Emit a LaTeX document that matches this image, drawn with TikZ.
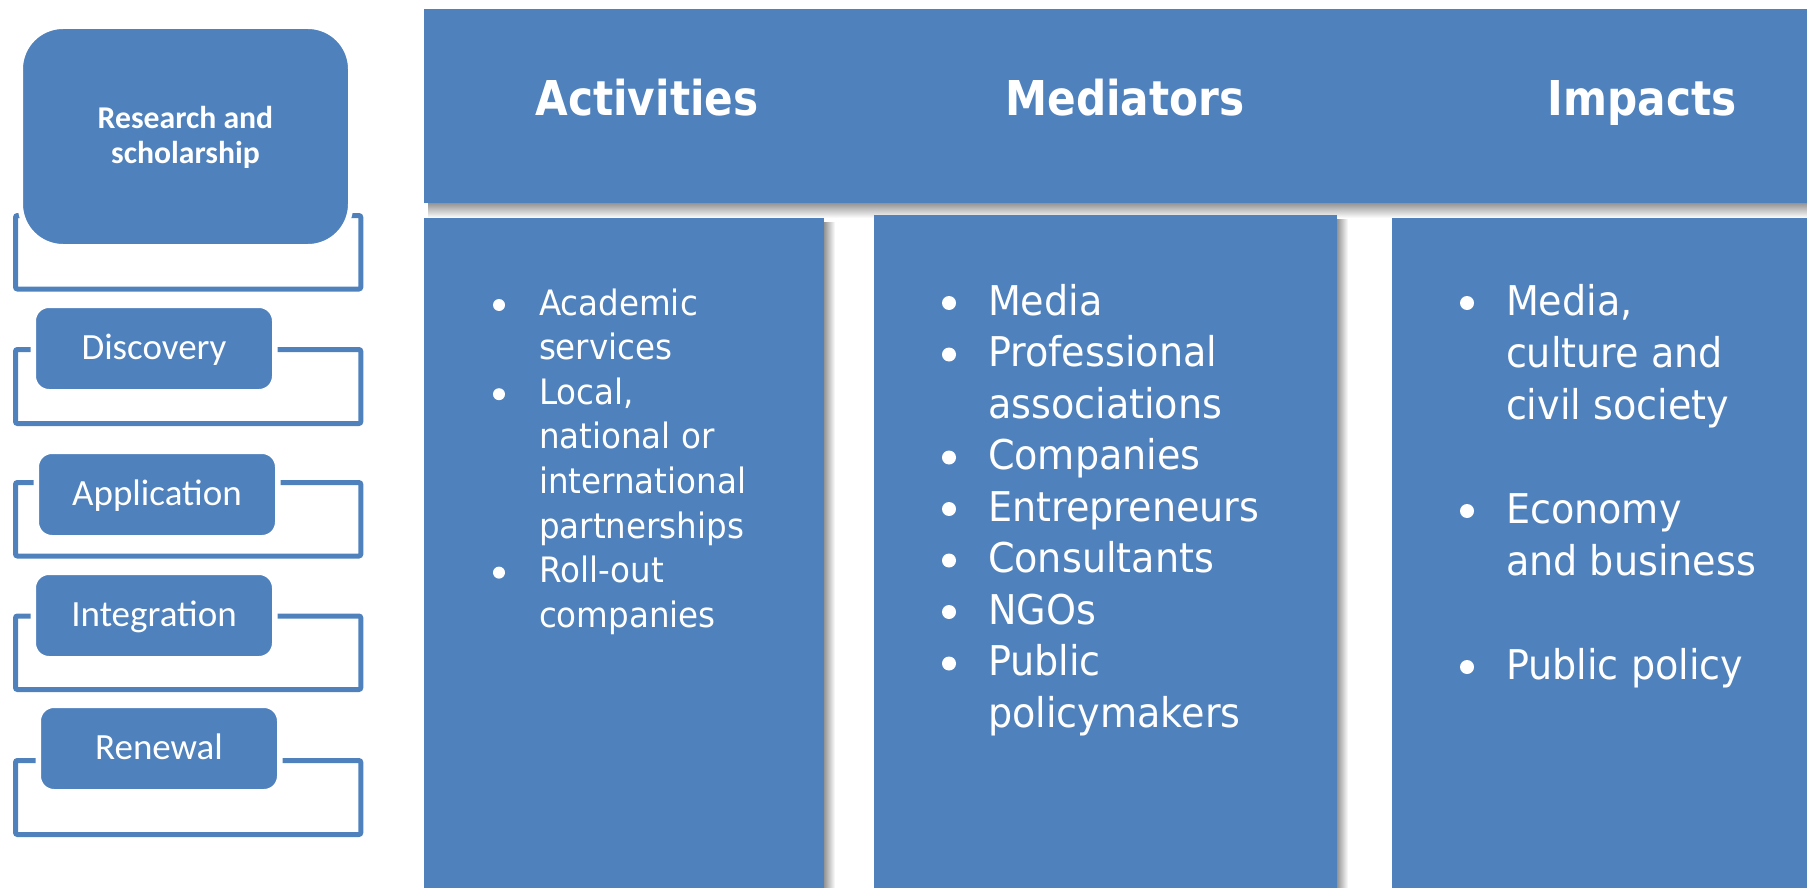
\documentclass[tikz,border=0pt]{standalone}
\usepackage{fontspec}
\newfontfamily\tahfont[FakeStretch=0.93]{DejaVu Sans}
\newfontfamily\tahhead[FakeStretch=0.88]{DejaVu Sans}
\newfontfamily\calfont{Carlito}
\definecolor{blu}{HTML}{4F81BD}
\begin{document}
\begin{tikzpicture}[x=1pt,y=-1pt,
  every node/.style={inner sep=0pt, outer sep=0pt},
  brk/.style={draw=blu, line width=5pt, rounded corners=2pt},
  lbox/.style={fill=blu, draw=white, line width=5.5pt, text=white,
    font=\calfont\fontsize{37pt}{44pt}\selectfont, align=center,
    text height=29pt, text depth=7pt,
    minimum width=241.5pt, minimum height=86.5pt, rounded corners=15.75pt},
  ltext/.style={text=white, font=\calfont\bfseries\fontsize{31.7pt}{35pt}\selectfont, anchor=base},
  mainbox/.style={fill=blu, anchor=north west},
  head/.style={text=white, font=\tahhead\bfseries\fontsize{48pt}{58pt}\selectfont, anchor=base},
  itemA/.style={text=white, font=\tahfont\fontsize{35pt}{42pt}\selectfont, anchor=base west},
  itemB/.style={text=white, font=\tahfont\fontsize{41pt}{49pt}\selectfont, anchor=base west},
  dotA/.style={circle, fill=white, minimum size=12pt},
  dotB/.style={circle, fill=white, minimum size=14pt},
  shv/.style={top color=black!42, bottom color=white, draw=none},
  shh/.style={left color=black!42, right color=white, draw=none},
]
\useasboundingbox (0,0) rectangle (1807,888);
\clip (0,0) rectangle (1807,888);

% ---------- left column: brackets ----------
\draw[brk] (15.5,215.5) rectangle (360.8,289);
\draw[brk] (15.5,349.5) rectangle (360.8,423.5);
\draw[brk] (15.5,482.5) rectangle (360.8,556);
\draw[brk] (15.5,616) rectangle (360.8,689.5);
\draw[brk] (15.5,760.5) rectangle (360.8,834.5);

% ---------- left column: boxes ----------
\node[lbox, minimum width=330.5pt, minimum height=220.5pt, rounded corners=42.75pt,
      text height=0pt, text depth=0pt] (res) at (185.5,136.5) {};
\node[ltext] (res1) at (185.5,128.5) {Research and};
\node[ltext] (res2) at (185.5,163.5) {scholarship};
\node[lbox] (disc) at (154,348.5) {Discovery};
\node[lbox] (appl) at (157,494.5) {Application};
\node[lbox] (integ) at (154,615.5) {Integration};
\node[lbox] (renew) at (159,748.5) {Renewal};

% ---------- shadows ----------
\fill[shv] (428,203) rectangle (1830,218);
\fill[shh] (824,222) rectangle (835,900);
\fill[shh] (1337,219) rectangle (1348,900);

% ---------- banner and columns ----------
\node[mainbox, minimum width=1420pt, minimum height=194pt] (banner) at (424,9) {};
\node[mainbox, minimum width=400pt, minimum height=700pt] (act) at (424,218) {};
\node[mainbox, minimum width=463pt, minimum height=700pt] (med) at (874,215) {};
\node[mainbox, minimum width=450pt, minimum height=700pt] (imp) at (1392,218) {};

% ---------- headings ----------
\node[head] (hact) at (647,116) {Activities};
\node[head] (hmed) at (1125,116) {Mediators};
\node[head] (himp) at (1642,116) {Impacts};

% ---------- Activities list ----------
\node[dotA] (ba1) at (499,305) {};
\node[dotA] (ba2) at (499,394.2) {};
\node[dotA] (ba3) at (499,572.6) {};
\node[itemA] (a1) at (539,315) {Academic};
\node[itemA] (a2) at (539,359.6) {services};
\node[itemA] (a3) at (539,404.2) {Local,};
\node[itemA] (a4) at (539,448.8) {national or};
\node[itemA] (a5) at (539,493.4) {international};
\node[itemA] (a6) at (539,538) {partnerships};
\node[itemA] (a7) at (539,582.6) {Roll-out};
\node[itemA] (a8) at (539,627.2) {companies};

% ---------- Mediators list ----------
\node[dotB] (bm1) at (949,303) {};
\node[dotB] (bm2) at (949,354.5) {};
\node[dotB] (bm3) at (949,457.5) {};
\node[dotB] (bm4) at (949,509) {};
\node[dotB] (bm5) at (949,560.5) {};
\node[dotB] (bm6) at (949,612) {};
\node[dotB] (bm7) at (949,663.5) {};
\node[itemB] (m1) at (988,315) {Media};
\node[itemB] (m2) at (988,366.5) {Professional};
\node[itemB] (m3) at (988,418) {associations};
\node[itemB] (m4) at (988,469.5) {Companies};
\node[itemB] (m5) at (988,521) {Entrepreneurs};
\node[itemB] (m6) at (988,572.5) {Consultants};
\node[itemB] (m7) at (988,624) {NGOs};
\node[itemB] (m8) at (988,675.5) {Public};
\node[itemB] (m9) at (988,727) {policymakers};

% ---------- Impacts list ----------
\node[dotB] (bi1) at (1467,303) {};
\node[dotB] (bi2) at (1467,511) {};
\node[dotB] (bi3) at (1467,667) {};
\node[itemB] (i1) at (1506,315) {Media,};
\node[itemB] (i2) at (1506,367) {culture and};
\node[itemB] (i3) at (1506,419) {civil society};
\node[itemB] (i4) at (1506,523) {Economy};
\node[itemB] (i5) at (1506,575) {and business};
\node[itemB] (i6) at (1506,679) {Public policy};
\end{tikzpicture}
\end{document}
